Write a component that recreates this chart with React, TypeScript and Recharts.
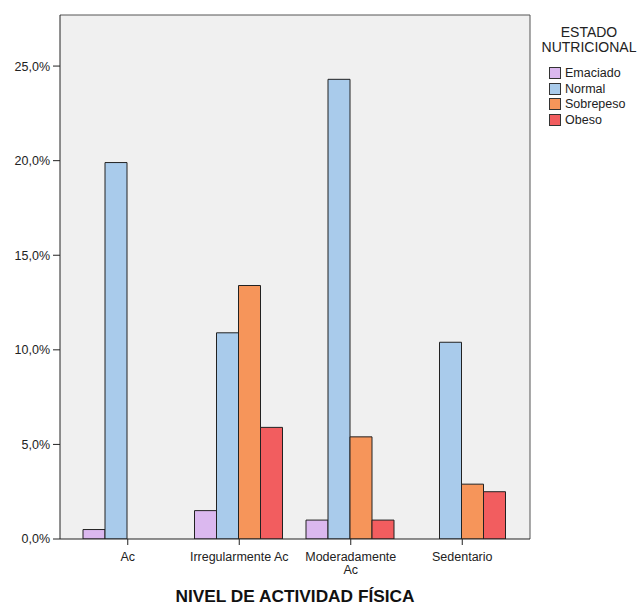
import React from "react";
import { BarChart, Bar, XAxis, YAxis, CartesianGrid, Legend } from "recharts";

const categories = ["Ac", "Irregularmente Ac", "Moderadamente Ac", "Sedentario"];
const categoryLines: Record<string, string[]> = {
  "Ac": ["Ac"],
  "Irregularmente Ac": ["Irregularmente Ac"],
  "Moderadamente Ac": ["Moderadamente", "Ac"],
  "Sedentario": ["Sedentario"],
};
const emaciado: (number | null)[] = [0.5, 1.5, 1.0, null];
const normal: (number | null)[] = [19.9, 10.9, 24.3, 10.4];
const sobrepeso: (number | null)[] = [null, 13.4, 5.4, 2.9];
const obeso: (number | null)[] = [null, 5.9, 1.0, 2.5];
const yTicks = [0, 5, 10, 15, 20, 25];
const yMax = 27.7;

const seriesNames = ["Emaciado", "Normal", "Sobrepeso", "Obeso"];
const seriesKeys = ["emaciado", "normal", "sobrepeso", "obeso"];
const seriesColors = ["#DBB8EF", "#A9CBEB", "#F6955A", "#F25D5F"];

const data = categories.map((c, i) => ({
  cat: c,
  emaciado: emaciado[i],
  normal: normal[i],
  sobrepeso: sobrepeso[i],
  obeso: obeso[i],
}));

const FONT = "'Liberation Sans', Arial, sans-serif";

const XTick = (props: any) => {
  const { x, y, payload } = props;
  const lines = categoryLines[payload.value] || [payload.value];
  return (
    <text x={x} y={y} textAnchor="middle" fontFamily={FONT} fontSize={12.5} fill="#222">
      {lines.map((l, i) => (
        <tspan key={i} x={x} dy={i === 0 ? 13.5 : 13}>
          {l}
        </tspan>
      ))}
    </text>
  );
};

const LegendContent = () => (
  <div style={{ fontFamily: FONT, color: "#222", width: 120 }}>
    <div style={{ textAlign: "center", fontSize: 14, lineHeight: "14.5px", marginLeft: 18 }}>
      <div>ESTADO</div>
      <div>NUTRICIONAL</div>
    </div>
    <div style={{ marginTop: 11 }}>
      {seriesNames.map((n, i) => (
        <div key={n} style={{ display: "flex", alignItems: "center", height: 15.8, paddingLeft: 29 }}>
          <div
            style={{
              width: 10,
              height: 10,
              background: seriesColors[i],
              border: "1px solid #333",
              marginRight: 4,
            }}
          />
          <span style={{ fontSize: 12.5 }}>{n}</span>
        </div>
      ))}
    </div>
  </div>
);

export default function App() {
  return (
    <div style={{ position: "absolute", left: 0, top: 0, background: "#fff" }}>
      <BarChart
        width={640}
        height={606}
        data={data}
        margin={{ top: 15, right: 110, bottom: 27, left: 0 }}
        barCategoryGap={11}
        barGap={0}
      >
        <CartesianGrid
          fill="#F0F0F0"
          stroke="#555"
          strokeDasharray=""
          horizontalCoordinatesGenerator={(p: any) => [p.offset.top]}
          verticalCoordinatesGenerator={(p: any) => [p.offset.left + p.offset.width]}
        />
        <XAxis
          dataKey="cat"
          height={40}
          padding={{ left: 12, right: 12 }}
          tick={<XTick />}
          tickSize={6}
          tickMargin={2}
          tickLine={{ stroke: "#222" }}
          axisLine={{ stroke: "#222" }}
          interval={0}
        />
        <YAxis
          width={60}
          domain={[0, yMax]}
          ticks={yTicks}
          tickFormatter={(v: number) => v.toFixed(1).replace(".", ",") + "%"}
          tick={{ fontFamily: FONT, fontSize: 12.5, fill: "#222" }}
          tickSize={7}
          tickMargin={3}
          tickLine={{ stroke: "#222" }}
          axisLine={{ stroke: "#222" }}
          allowDataOverflow
        />
        <Legend
          layout="horizontal"
          verticalAlign="middle"
          align="center"
          content={<LegendContent />}
          wrapperStyle={{ left: 520, top: 25, width: 120 }}
        />
        {seriesKeys.map((k, i) => (
          <Bar
            key={k}
            dataKey={k}
            name={seriesNames[i]}
            fill={seriesColors[i]}
            stroke="#222"
            strokeWidth={1}
            isAnimationActive={false}
          />
        ))}
        <text x={295} y={602} textAnchor="middle" fontFamily={FONT} fontWeight="bold" fontSize={17.3} fill="#111">
          NIVEL DE ACTIVIDAD FÍSICA
        </text>
      </BarChart>
    </div>
  );
}
